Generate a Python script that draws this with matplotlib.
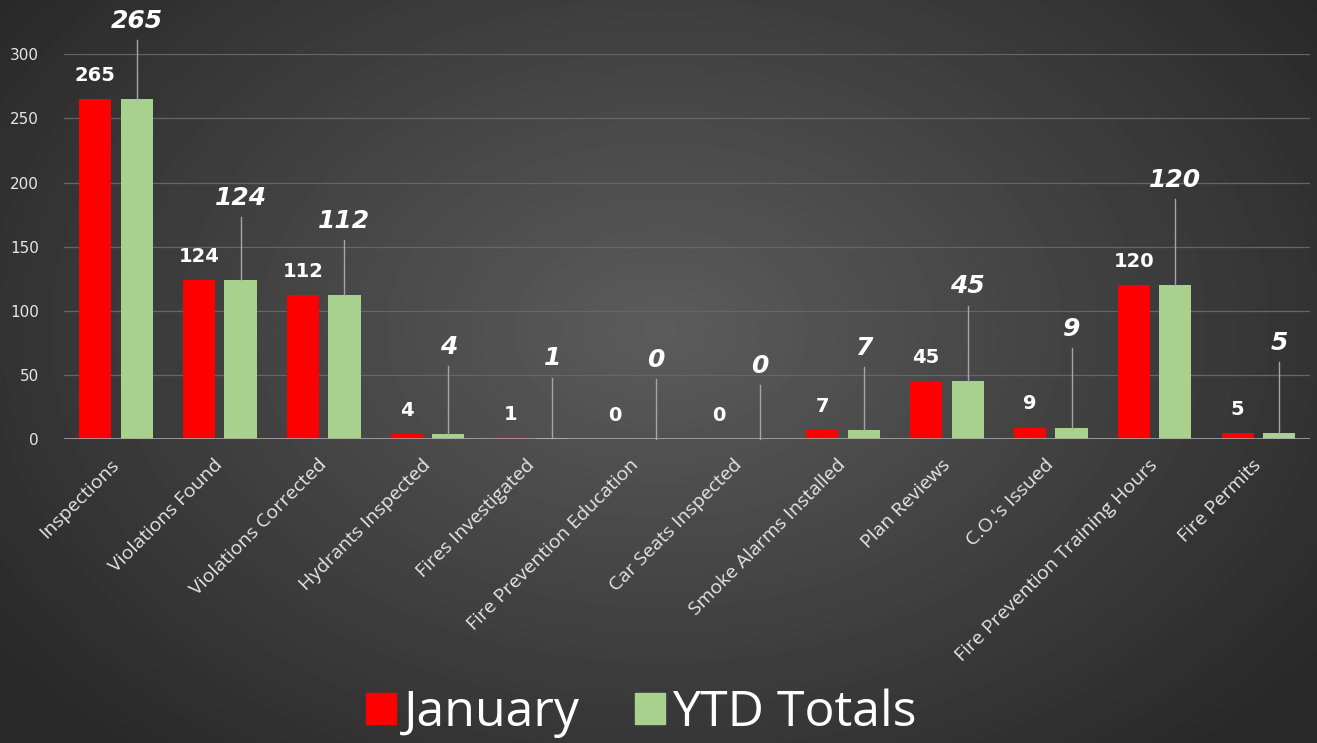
import numpy as np
import matplotlib
matplotlib.use("Agg")
import matplotlib.pyplot as plt
import matplotlib.transforms as mtransforms
from matplotlib.patches import Patch

categories = ["Inspections", "Violations Found", "Violations Corrected",
              "Hydrants Inspected", "Fires Investigated", "Fire Prevention Education",
              "Car Seats Inspected", "Smoke Alarms Installed", "Plan Reviews",
              "C.O.'s Issued", "Fire Prevention Training Hours", "Fire Permits"]
january = [265, 124, 112, 4, 1, 0, 0, 7, 45, 9, 120, 5]
ytd_totals = [265, 124, 112, 4, 1, 0, 0, 7, 45, 9, 120, 5]
# height of the callout labels for the YTD series
ytd_label_y = [326, 188, 170, 72, 63, 62, 57, 71, 119, 86, 202, 75]
yticks = [0, 50, 100, 150, 200, 250, 300]

red = "#ff0000"
green = "#a9d18e"
txt = "#e6e6e6"

fig = plt.figure(figsize=(13.17, 7.43), dpi=100)

# radial gray backdrop
bg = fig.add_axes([0, 0, 1, 1])
yy, xx = np.mgrid[0:743, 0:1317]
r = np.sqrt(((xx - 660) / 900.0) ** 2 + ((yy - 330) / 620.0) ** 2)
shade = np.clip(0.36 - 0.22 * r, 0.16, 0.36)
bg.imshow(shade, cmap="gray", vmin=0, vmax=1, aspect="auto")
bg.axis("off")

ax = fig.add_axes([0.0486, 0.409, 0.9464, 0.518])
ax.patch.set_alpha(0)
x = np.arange(len(categories))
w = 0.31
ax.bar(x - 0.2, january, w, color=red, zorder=3)
ax.bar(x + 0.2, ytd_totals, w, color=green, zorder=3)

ax.set_xlim(-0.5, len(categories) - 0.5)
ax.set_ylim(0, 300)
ax.set_yticks(yticks)
ax.yaxis.grid(True, color="#666666", lw=0.9)
ax.set_axisbelow(True)
for s in ax.spines.values():
    s.set_visible(False)
ax.axhline(0, color="#a6a6a6", lw=1.2, zorder=4)
ax.tick_params(length=0, colors=txt)
ax.tick_params(axis="y", labelsize=11, pad=18)
ax.set_xticks(x)
ax.set_xticklabels(categories, rotation=45, ha="right", rotation_mode="anchor",
                   fontsize=14, family="Open Sans", color=txt)
ax.tick_params(axis="x", pad=12)
shift = mtransforms.ScaledTranslation(-6 / 100, 0, fig.dpi_scale_trans)
for lab in ax.get_xticklabels():
    lab.set_transform(lab.get_transform() + shift)

for i, v in enumerate(january):
    ax.text(x[i] - 0.2, v + 11, str(v), ha="center", va="bottom",
            fontsize=14, fontweight="bold", color="white", zorder=5)

for i, v in enumerate(ytd_totals):
    ly = ytd_label_y[i]
    ax.text(x[i] + 0.2, ly, str(v), ha="center", va="center", fontsize=18,
            fontweight="bold", style="italic", color="white", clip_on=False, zorder=5)
    ax.plot([x[i] + 0.2, x[i] + 0.2], [v, ly - 15], color="#a6a6a6", lw=1,
            clip_on=False, zorder=4)

handles = [Patch(color=red, label="January"), Patch(color=green, label="YTD Totals")]
fig.legend(handles=handles, loc="center", bbox_to_anchor=(0.487, 0.04), ncol=2,
           frameon=False, prop={"family": "Open Sans", "size": 36}, labelcolor="white",
           handlelength=0.6, handleheight=0.6, handletextpad=0.15, columnspacing=1.1)

fig.savefig("out.png", dpi=100)
